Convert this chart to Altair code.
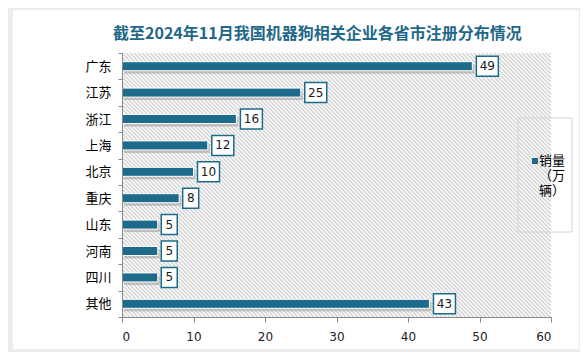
import altair as alt
import pandas as pd

# ---- data ----
provinces = ["广东", "江苏", "浙江", "上海", "北京", "重庆", "山东", "河南", "四川", "其他"]
values = [49, 25, 16, 12, 10, 8, 5, 5, 5, 43]
series_name = "销量（万辆）"
legend_lines = ["销量", "（万", "辆）"]
x_ticks = [0, 10, 20, 30, 40, 50, 60]
title_text = "截至2024年11月我国机器狗相关企业各省市注册分布情况"

df = pd.DataFrame({"province": provinces, "value": values, "series": series_name})
df["label"] = df["value"].astype(str)

W, H = 429, 264
TEAL = "#1c6b8b"
CJK = "Noto Sans CJK SC"
NUM = "DejaVu Sans"

# diagonal hatch for the plot background: a soft triangle-wave gradient
diag_len = (W + H) / 2 ** 0.5
period = (4 / 2 ** 0.5) / diag_len
stops = []
t = 0.0
while t < 1.0:
    stops.append(alt.GradientStop(offset=round(t, 6), color="#d2d2d2"))
    if t + period / 2 < 1.0:
        stops.append(alt.GradientStop(offset=round(t + period / 2, 6), color="#ffffff"))
    t += period
r = H / W
k = (1 + r) / (1 + r * r)
hatch = alt.LinearGradient(gradient="linear", stops=stops,
                           x1=0, y1=1, x2=k, y2=1 - k * r)

y_enc = alt.Y(
    "province:N", sort=provinces, title=None,
    scale=alt.Scale(paddingInner=0, paddingOuter=0),
    axis=alt.Axis(domainColor="#8a8a8a", tickColor="#8a8a8a", tickSize=4,
                  tickBand="extent", labelFont=CJK, labelFontSize=13,
                  labelColor="#000000", labelPadding=7, grid=False, zindex=3),
)
x_enc = alt.X(
    "value:Q", title=None, scale=alt.Scale(domain=[0, 60], nice=False),
    axis=alt.Axis(values=x_ticks, domainColor="#8a8a8a", tickColor="#8a8a8a",
                  tickSize=5, labelFont=NUM, labelFontSize=12,
                  labelColor="#222222", labelPadding=9, grid=False, zindex=3),
)

base = alt.Chart(df)
first = "datum.province == '广东'"

card = base.mark_rect(color="#ffffff").encode(
    x=alt.value(-109), x2=alt.value(457), y=alt.value(-43), y2=alt.value(296)
).transform_filter(first)

bg = base.mark_rect(fill=hatch).encode(
    x=alt.value(0), x2=alt.value(W), y=alt.value(0), y2=alt.value(H)
).transform_filter(first)

legend_box = base.mark_rect(filled=False, stroke="#d4d4d4", strokeWidth=1).encode(
    x=alt.value(396), x2=alt.value(450), y=alt.value(65), y2=alt.value(179)
).transform_filter(first)

legend_sym = base.mark_point(shape="square", filled=True, size=36, opacity=1).encode(
    x=alt.value(413), y=alt.value(108), color=alt.value(TEAL)
).transform_filter(first)

legend_txt = base.mark_text(align="left", baseline="middle", font=CJK, fontSize=13,
                            lineHeight=15, color="#000000").encode(
    x=alt.value(417), y=alt.value(108), text=alt.value(legend_lines)
).transform_filter(first)

shadow = base.mark_bar(size=9, color="#8c8c8c", opacity=0.45, xOffset=2, yOffset=3).encode(
    x=x_enc, y=y_enc
)

bars = base.mark_bar(size=9, stroke="#ffffff", strokeWidth=1).encode(
    x=x_enc, y=y_enc,
    color=alt.Color("series:N", scale=alt.Scale(range=[TEAL]), legend=None),
)

two = "datum.value >= 10"
one = "datum.value < 10"

box2 = base.mark_bar(size=20, fill="#ffffff", stroke=TEAL, strokeWidth=1.5,
                     xOffset=4, x2Offset=26).encode(
    x=x_enc, x2="value:Q", y=y_enc
).transform_filter(two)
box1 = base.mark_bar(size=20, fill="#ffffff", stroke=TEAL, strokeWidth=1.5,
                     xOffset=3.5, x2Offset=19.5).encode(
    x=x_enc, x2="value:Q", y=y_enc
).transform_filter(one)

txt2 = base.mark_text(dx=15, font=NUM, fontSize=12, color="#1a1a1a", align="center",
                      baseline="middle").encode(
    x=x_enc, y=y_enc, text="label:N"
).transform_filter(two)
txt1 = base.mark_text(dx=11.5, font=NUM, fontSize=12, color="#1a1a1a", align="center",
                      baseline="middle").encode(
    x=x_enc, y=y_enc, text="label:N"
).transform_filter(one)

chart = alt.layer(card, bg, legend_box, legend_sym, legend_txt, shadow, bars,
                  box2, box1, txt2, txt1).properties(
    width=W, height=H,
    title=alt.TitleParams(title_text, font=CJK, fontSize=16, fontWeight="bold",
                          color="#1f6888", anchor="start", frame="group",
                          dx=-9, dy=32, offset=0, zindex=3),
    padding={"left": 114, "top": 45, "right": 29, "bottom": 35},
    autosize=alt.AutoSizeParams(type="none"),
    background="#ececec",
).configure_view(stroke=None)

chart.save("out.html", embed_options={"renderer": "svg", "actions": False})
